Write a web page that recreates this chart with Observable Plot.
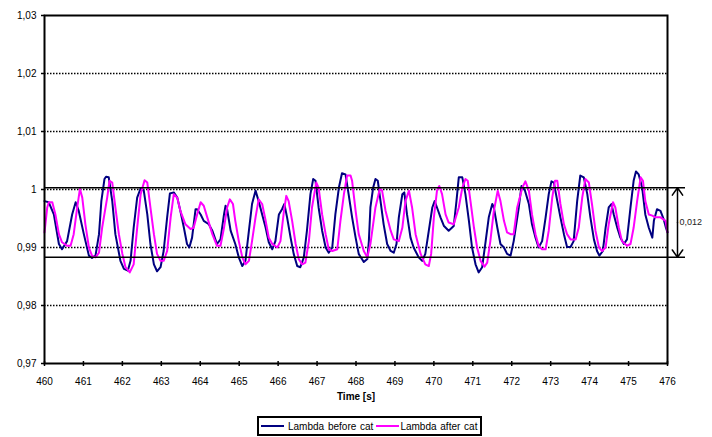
<!DOCTYPE html>
<html>
<head>
<meta charset="utf-8">
<script src="https://cdn.jsdelivr.net/npm/d3@7"></script>
<script src="https://cdn.jsdelivr.net/npm/@observablehq/plot@0.6"></script>
<style>
  body { margin: 0; background: #fff; font-family: "Liberation Sans", Arial, sans-serif; }
  #chart { position: relative; width: 712px; height: 437px; }
  #chart svg { display: block; }
  #legend {
    position: absolute; left: 257px; top: 416px; height: 16px;
    border: 2px solid #000; background: #fff;
    display: flex; align-items: center; font-size: 10px; color: #000;
    padding: 0 3px 0 1px; white-space: nowrap; word-spacing: 1px;
  }
  #legend .sw { display: inline-block; width: 23px; height: 2px; }
</style>
</head>
<body>
<div id="chart"></div>
<script>
// Lambda signal upstream of the catalyst: [time (s), lambda]
const lambdaBeforeCat = [
  [460.00,0.9980],[460.11,0.9978],[460.24,0.9957],[460.37,0.9906],[460.45,0.9897],[460.58,0.9911],
  [460.71,0.9957],[460.80,0.9978],[460.88,0.9963],[461.01,0.9923],[461.14,0.9886],[461.22,0.9882],
  [461.31,0.9886],[461.40,0.9923],[461.46,0.9980],[461.54,1.0018],[461.58,1.0022],[461.65,1.0021],
  [461.74,0.9980],[461.82,0.9923],[461.95,0.9877],[462.04,0.9863],[462.14,0.9860],[462.21,0.9877],
  [462.29,0.9934],[462.38,0.9986],[462.47,1.0002],[462.55,0.9998],[462.64,0.9957],[462.72,0.9906],
  [462.81,0.9871],[462.89,0.9859],[462.98,0.9866],[463.06,0.9894],[463.15,0.9952],[463.22,0.9993],
  [463.32,0.9995],[463.41,0.9986],[463.49,0.9963],[463.58,0.9934],[463.66,0.9906],[463.72,0.9900],
  [463.79,0.9917],[463.88,0.9966],[463.92,0.9966],[464.01,0.9957],[464.09,0.9946],[464.22,0.9940],
  [464.31,0.9929],[464.43,0.9906],[464.52,0.9914],[464.61,0.9957],[464.65,0.9972],[464.69,0.9966],
  [464.78,0.9929],[464.90,0.9906],[464.99,0.9883],[465.08,0.9868],[465.16,0.9877],[465.25,0.9929],
  [465.33,0.9975],[465.42,0.9998],[465.50,0.9980],[465.59,0.9957],[465.68,0.9934],[465.76,0.9909],
  [465.85,0.9897],[465.93,0.9911],[466.02,0.9957],[466.10,0.9966],[466.16,0.9975],[466.23,0.9952],
  [466.32,0.9917],[466.40,0.9889],[466.49,0.9868],[466.57,0.9866],[466.66,0.9883],[466.74,0.9929],
  [466.83,0.9992],[466.90,1.0018],[466.96,1.0015],[467.04,0.9969],[467.13,0.9929],[467.22,0.9900],
  [467.30,0.9891],[467.39,0.9900],[467.47,0.9957],[467.56,1.0003],[467.64,1.0028],[467.73,1.0026],
  [467.81,0.9992],[467.90,0.9952],[467.99,0.9917],[468.07,0.9889],[468.20,0.9875],[468.29,0.9880],
  [468.33,0.9911],[468.37,0.9969],[468.44,1.0003],[468.50,1.0018],[468.56,1.0015],[468.63,0.9980],
  [468.71,0.9940],[468.80,0.9906],[468.89,0.9894],[468.97,0.9891],[469.04,0.9906],[469.10,0.9952],
  [469.19,0.9992],[469.24,0.9995],[469.31,0.9957],[469.40,0.9917],[469.48,0.9900],[469.61,0.9883],
  [469.70,0.9877],[469.78,0.9889],[469.87,0.9929],[469.96,0.9969],[470.02,0.9980],[470.08,0.9969],
  [470.17,0.9952],[470.26,0.9937],[470.38,0.9929],[470.51,0.9937],[470.58,0.9980],[470.64,1.0021],
  [470.73,1.0021],[470.81,0.9992],[470.90,0.9946],[470.98,0.9900],[471.07,0.9871],[471.15,0.9857],
  [471.24,0.9866],[471.33,0.9911],[471.41,0.9952],[471.50,0.9975],[471.54,0.9969],[471.63,0.9934],
  [471.71,0.9906],[471.80,0.9900],[471.88,0.9889],[471.97,0.9886],[472.05,0.9911],[472.18,0.9969],
  [472.25,1.0006],[472.34,0.9998],[472.44,0.9975],[472.52,0.9940],[472.61,0.9917],[472.69,0.9900],
  [472.78,0.9911],[472.87,0.9952],[472.95,0.9992],[473.02,1.0014],[473.08,1.0012],[473.17,0.9980],
  [473.25,0.9952],[473.34,0.9923],[473.42,0.9901],[473.51,0.9901],[473.59,0.9911],[473.68,0.9980],
  [473.76,1.0024],[473.85,1.0021],[473.94,0.9992],[474.02,0.9952],[474.11,0.9914],[474.19,0.9894],
  [474.25,0.9886],[474.34,0.9894],[474.41,0.9934],[474.49,0.9969],[474.56,0.9975],[474.62,0.9957],
  [474.71,0.9934],[474.79,0.9917],[474.88,0.9906],[474.96,0.9914],[475.05,0.9969],[475.13,1.0015],
  [475.19,1.0031],[475.26,1.0026],[475.35,1.0003],[475.43,0.9957],[475.52,0.9934],[475.61,0.9917],
  [475.65,0.9946],[475.73,0.9966],[475.82,0.9963],[475.90,0.9949],[475.96,0.9934],[476.00,0.9926]
];

// Lambda signal downstream of the catalyst: [time (s), lambda]
const lambdaAfterCat = [
  [460.00,0.9926],[460.07,0.9969],[460.11,0.9978],[460.20,0.9978],[460.28,0.9957],[460.37,0.9923],
  [460.45,0.9909],[460.58,0.9903],[460.67,0.9903],[460.75,0.9923],[460.84,0.9969],[460.91,1.0001],
  [460.97,0.9986],[461.05,0.9940],[461.14,0.9900],[461.22,0.9886],[461.31,0.9883],[461.40,0.9891],
  [461.48,0.9934],[461.61,0.9986],[461.67,1.0015],[461.74,1.0012],[461.82,0.9969],[461.91,0.9923],
  [462.00,0.9889],[462.08,0.9866],[462.19,0.9857],[462.29,0.9871],[462.38,0.9934],[462.47,0.9992],
  [462.57,1.0016],[462.64,1.0012],[462.72,0.9969],[462.81,0.9923],[462.89,0.9889],[462.98,0.9877],
  [463.06,0.9877],[463.15,0.9894],[463.24,0.9952],[463.32,0.9992],[463.41,0.9986],[463.49,0.9963],
  [463.62,0.9940],[463.75,0.9932],[463.83,0.9934],[463.92,0.9957],[464.01,0.9978],[464.09,0.9972],
  [464.18,0.9952],[464.31,0.9923],[464.43,0.9903],[464.52,0.9903],[464.61,0.9934],[464.69,0.9969],
  [464.76,0.9983],[464.84,0.9975],[464.90,0.9946],[464.99,0.9911],[465.08,0.9883],[465.16,0.9871],
  [465.25,0.9877],[465.33,0.9911],[465.42,0.9952],[465.50,0.9983],[465.59,0.9975],[465.68,0.9946],
  [465.76,0.9917],[465.85,0.9906],[465.98,0.9900],[466.06,0.9911],[466.15,0.9963],[466.21,0.9989],
  [466.27,0.9980],[466.36,0.9946],[466.45,0.9906],[466.53,0.9880],[466.62,0.9871],[466.70,0.9874],
  [466.79,0.9911],[466.87,0.9969],[466.98,1.0012],[467.04,1.0003],[467.13,0.9957],[467.22,0.9923],
  [467.30,0.9897],[467.39,0.9894],[467.52,0.9897],[467.60,0.9946],[467.69,0.9992],[467.77,1.0024],
  [467.86,1.0024],[467.90,1.0015],[467.99,0.9963],[468.07,0.9923],[468.20,0.9894],[468.29,0.9883],
  [468.37,0.9906],[468.50,0.9969],[468.61,1.0001],[468.67,0.9998],[468.76,0.9963],[468.89,0.9929],
  [468.97,0.9914],[469.10,0.9911],[469.19,0.9934],[469.27,0.9980],[469.36,0.9998],[469.44,0.9969],
  [469.53,0.9923],[469.66,0.9889],[469.78,0.9871],[469.87,0.9868],[469.93,0.9889],[470.00,0.9952],
  [470.08,0.9998],[470.14,1.0006],[470.21,0.9992],[470.30,0.9957],[470.38,0.9943],[470.51,0.9940],
  [470.64,0.9969],[470.73,1.0003],[470.81,1.0018],[470.87,1.0015],[470.94,0.9980],[471.03,0.9934],
  [471.11,0.9900],[471.20,0.9877],[471.30,0.9867],[471.37,0.9874],[471.45,0.9911],[471.54,0.9963],
  [471.64,0.9998],[471.71,0.9980],[471.80,0.9946],[471.88,0.9926],[471.97,0.9923],[472.05,0.9923],
  [472.14,0.9969],[472.27,1.0003],[472.35,1.0014],[472.44,0.9998],[472.52,0.9957],[472.61,0.9923],
  [472.69,0.9903],[472.78,0.9897],[472.87,0.9897],[472.95,0.9929],[473.04,0.9986],[473.11,1.0015],
  [473.17,1.0015],[473.25,0.9975],[473.34,0.9940],[473.42,0.9923],[473.51,0.9914],[473.64,0.9914],
  [473.72,0.9934],[473.81,0.9986],[473.89,1.0018],[473.98,1.0012],[474.06,0.9975],[474.15,0.9929],
  [474.24,0.9900],[474.32,0.9894],[474.41,0.9900],[474.49,0.9940],[474.60,0.9978],[474.66,0.9969],
  [474.75,0.9934],[474.83,0.9911],[474.96,0.9903],[475.05,0.9906],[475.13,0.9934],[475.22,0.9980],
  [475.31,1.0021],[475.37,1.0015],[475.43,0.9980],[475.52,0.9957],[475.61,0.9955],[475.69,0.9952],
  [475.82,0.9952],[475.95,0.9946],[476.00,0.9926]
];

const seriesNames = ["Lambda before cat", "Lambda after cat"];
const seriesColors = ["#000080", "#ff00ff"];

const xTicks = d3.range(460, 477);                               // 460 … 476 s
const yTicks = [0.97, 0.98, 0.99, 1.00, 1.01, 1.02, 1.03];
const gridLevels = [0.98, 0.99, 1.00, 1.01, 1.02];
const bandLimits = [0.9883, 1.0003];                             // lower / upper lambda limit

const commaDecimal = d => d3.format(".3~f")(d).replace(".", ",");
const bandWidth = bandLimits[1] - bandLimits[0];
const bandMid = (bandLimits[0] + bandLimits[1]) / 2;
const xEnd = xTicks[xTicks.length - 1];

const chart = Plot.plot({
  width: 712,
  height: 410,
  marginTop: 15,
  marginLeft: 44,
  marginRight: 45,
  marginBottom: 47,
  style: { fontFamily: "'Liberation Sans', Arial, sans-serif", fontSize: "10px", background: "#fff", color: "#000" },
  x: { domain: [460, 476] },
  y: { domain: [0.97, 1.03] },
  marks: [
    // dotted horizontal grid
    Plot.ruleY(gridLevels, { y: d => d, stroke: "#000", strokeWidth: 1.5, strokeDasharray: "1.5,1.5" }),
    // the two lambda traces
    Plot.line(lambdaBeforeCat, { x: d => d[0], y: d => d[1], stroke: seriesColors[0], strokeWidth: 2 }),
    Plot.line(lambdaAfterCat, { x: d => d[0], y: d => d[1], stroke: seriesColors[1], strokeWidth: 2 }),
    // lambda window limits, running a little past the right edge
    Plot.ruleY(bandLimits, { y: d => d, x1: () => 460, x2: () => xEnd, insetRight: -18, stroke: "#000", strokeWidth: 1.5 }),
    // double-headed arrow spanning the window
    Plot.arrow([bandLimits[1], bandLimits[0]], {
      x1: () => xEnd, x2: () => xEnd, y1: () => bandMid, y2: d => d,
      dx: 10, stroke: "#000", strokeWidth: 1.5, headLength: 9, headAngle: 70
    }),
    Plot.text([bandWidth], {
      x: () => xEnd, y: () => bandMid, text: d => commaDecimal(d),
      dx: 12, textAnchor: "start", fontSize: 9, fill: "#222"
    }),
    // axes
    Plot.axisY(yTicks, {
      tickSize: 4, tickPadding: 5, dx: 1, strokeWidth: 1.5, fontSize: 10,
      tickFormat: d => d3.format(".2~f")(d).replace(".", ","), label: null
    }),
    Plot.axisX(xTicks, {
      tickSize: 5, tickPadding: 11, dy: -2, strokeWidth: 1.5, fontSize: 10,
      tickFormat: d => String(d), label: null
    }),
    Plot.text(["Time [s]"], { frameAnchor: "bottom", text: d => d, dy: 36, fontWeight: "bold", fontSize: 10 }),
    Plot.frame({ stroke: "#000", strokeWidth: 2 })
  ]
});

const host = document.getElementById("chart");
host.appendChild(chart);

// legend box under the chart
const legend = document.createElement("div");
legend.id = "legend";
seriesNames.forEach((name, i) => {
  const sw = document.createElement("span");
  sw.className = "sw";
  sw.style.background = seriesColors[i];
  sw.style.marginLeft = i === 0 ? "1px" : "3px";
  const label = document.createElement("span");
  label.textContent = name;
  label.style.marginLeft = i === 0 ? "4px" : "1px";
  legend.appendChild(sw);
  legend.appendChild(label);
});
host.appendChild(legend);
</script>
</body>
</html>
